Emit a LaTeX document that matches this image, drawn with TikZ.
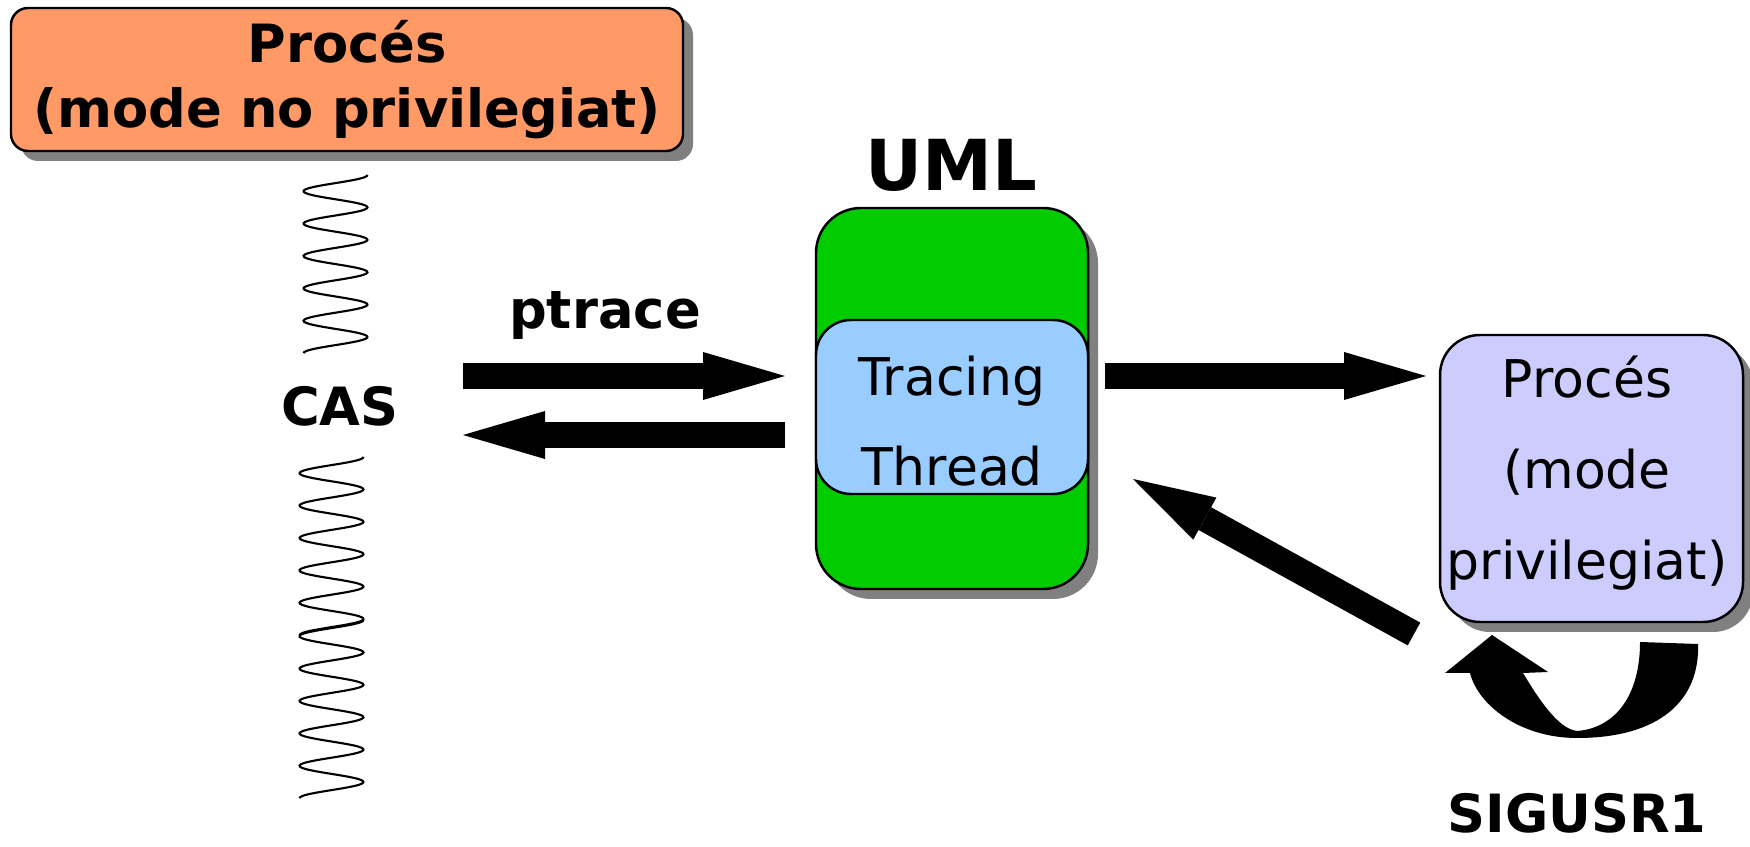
\documentclass[tikz,border=0pt]{standalone}
\usepackage{fontspec}
\setmainfont{DejaVu Sans}
\usetikzlibrary{arrows.meta,shadows}

\definecolor{procorange}{HTML}{FF9966}
\definecolor{umlgreen}{HTML}{00CC00}
\definecolor{threadblue}{HTML}{99CCFF}
\definecolor{privlilac}{HTML}{CCCCFF}

\tikzset{
  caixa/.style={draw=black,line width=0.7pt,inner sep=0pt,align=center,
    drop shadow={shadow xshift=0.1cm,shadow yshift=-0.1cm,fill=black!50,opacity=1}},
  titol/.style={font=\fontsize{15}{18.5}\selectfont\bfseries},
  normal/.style={font=\fontsize{14.8}{25.8}\selectfont,align=center},
  fletxa/.style={line width=2.6mm,-{Triangle[length=8.2mm,width=4.8mm,line width=0pt]}},
  ona/.style={line width=0.6pt},
}

\begin{document}
\begin{tikzpicture}
  \useasboundingbox (0,0) rectangle (17.5,8.46);

  % proces d'usuari
  \node[caixa,fill=procorange,rounded corners=0.17cm,minimum width=6.72cm,
        minimum height=1.43cm,titol] (usuari) at (3.47,7.665)
        {Procés\\(mode no privilegiat)};

  % frontera del canvi de context
  \foreach \cx/\ys in {3.355/6.71, 3.315/3.89, 3.315/2.26}
    \draw[ona] plot[variable=\t,domain=0:5.5,samples=160,smooth]
      ({\cx+0.32*cos(360*\t)},{\ys-0.324*\t});
  \node[titol] (cas) at (3.40,4.40) {CAS};

  % UML amb el fil de traca
  \node[font=\fontsize{20}{24}\selectfont\bfseries] (uml) at (9.51,6.81) {UML};
  \node[caixa,fill=umlgreen,rounded corners=0.45cm,minimum width=2.72cm,
        minimum height=3.81cm] (nucli) at (9.52,4.475) {};
  \node[draw,line width=0.7pt,fill=threadblue,rounded corners=0.35cm,
        minimum width=2.72cm,minimum height=1.74cm] (tracing) at (9.52,4.39) {};
  \node[normal] (tracingtxt) at (9.52,4.25) {Tracing\\Thread};

  % proces privilegiat
  \node[caixa,fill=privlilac,rounded corners=0.4cm,minimum width=3.03cm,
        minimum height=2.87cm] (privat) at (15.915,3.675) {};
  \node[normal] (privattxt) at (15.87,3.73) {Procés\\(mode\\privilegiat)};

  % fletxes
  \coordinate (crida) at (4.63,4.70);
  \coordinate (cridafi) at (7.85,4.70);
  \coordinate (retorn) at (7.85,4.11);
  \coordinate (retornfi) at (4.63,4.11);
  \coordinate (senyal) at (11.05,4.70);
  \coordinate (senyalfi) at (14.26,4.70);
  \coordinate (tornada) at (14.14,2.12);
  \coordinate (tornadafi) at (11.33,3.67);
  \draw[fletxa] (crida) -- (cridafi);
  \draw[fletxa] (retorn) -- (retornfi);
  \draw[fletxa] (senyal) -- (senyalfi);
  \draw[fletxa] (tornada) -- (tornadafi);
  \node[titol] (ptrace) at (6.05,5.31) {ptrace};

  % senyal cap al mateix proces
  \fill (16.40,2.04) -- (16.98,2.02)
    .. controls (17.00,1.46) and (16.60,1.08) .. (15.77,1.08)
    .. controls (15.20,1.08) and (14.78,1.41) .. (14.70,1.73)
    -- (14.45,1.73) -- (14.92,2.11) -- (15.48,1.74) -- (15.23,1.73)
    .. controls (15.38,1.48) and (15.58,1.17) .. (15.77,1.15)
    .. controls (16.15,1.18) and (16.40,1.50) .. (16.40,2.04) -- cycle;
  \node[titol,inner sep=0.5pt] (sigusr) at (15.77,0.33) {SIGUSR1};
\end{tikzpicture}
\end{document}
